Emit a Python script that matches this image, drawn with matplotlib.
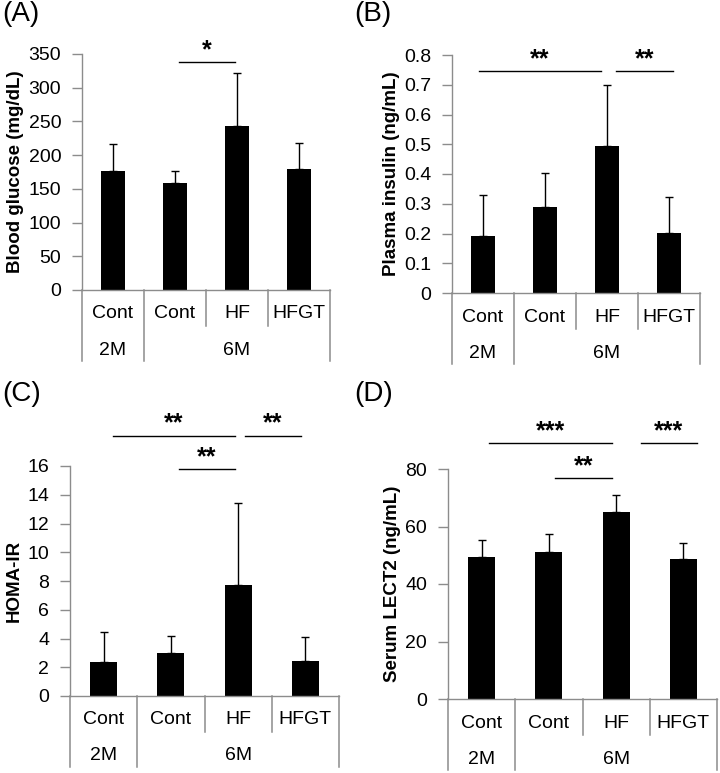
import matplotlib
matplotlib.use("Agg")
import matplotlib.pyplot as plt
import matplotlib.transforms as mtransforms
from matplotlib.lines import Line2D

plt.rcParams['font.family'] = ['Liberation Sans', 'DejaVu Sans']

# ---------------- data ----------------
categories = ["Cont", "Cont", "HF", "HFGT"]
group_labels = ["2M", "6M"]
group_spans = [(0, 0), (1, 3)]

glucose_mean = [177, 159, 243, 179]
glucose_err = [40, 18, 79, 39]

insulin_mean = [0.193, 0.288, 0.493, 0.202]
insulin_err = [0.138, 0.117, 0.207, 0.120]

homa_mean = [2.4, 3.0, 7.7, 2.45]
homa_err = [2.05, 1.2, 5.7, 1.65]

lect2_mean = [49.5, 51.0, 65.0, 48.7]
lect2_err = [5.8, 6.3, 6.0, 5.6]

# significance annotations: (x_start, x_end, y, label)
sig_A = [(1.06, 1.97, 338, "*")]
sig_B = [(-0.06, 1.90, 0.746, "**"), (2.15, 3.06, 0.746, "**")]
sig_C = [(0.14, 1.95, 18.1, "**"), (2.10, 2.93, 18.1, "**"), (1.12, 1.95, 15.8, "**")]
sig_D = [(0.11, 1.94, 89, "***"), (2.37, 3.20, 89, "***"), (1.09, 1.94, 76.9, "**")]

W, H = 720, 773
fig = plt.figure(figsize=(W / 100, H / 100), dpi=100)

GRAY = "#8c8c8c"
FS = 14


def make_panel(rect_px, means, errs, ylim, yticks, ylabel, sigs,
               panel_label, label_xy, tick_fmt):
    l, r, t, b = rect_px
    ax = fig.add_axes([l / W, (H - b) / H, (r - l) / W, (b - t) / H])
    x = list(range(len(means)))
    ax.bar(x, means, width=0.4, color="black", zorder=2)
    ax.errorbar(x, means, yerr=[[0] * len(errs), errs], fmt="none",
                ecolor="black", elinewidth=1.0, capsize=3, capthick=1.0, zorder=3)
    ax.set_xlim(-0.5, len(means) - 0.5)
    ax.set_ylim(*ylim)
    ax.set_yticks(yticks)
    ax.set_yticklabels([tick_fmt(v) for v in yticks], fontsize=FS)
    ax.tick_params(axis="y", direction="out", length=7, width=1, color=GRAY, pad=8)
    ax.set_xticks([])
    for s in ["top", "right"]:
        ax.spines[s].set_visible(False)
    for s in ["left", "bottom"]:
        ax.spines[s].set_color(GRAY)
        ax.spines[s].set_linewidth(1)
    ax.set_ylabel(ylabel, fontsize=13.5, fontweight="bold", labelpad=3)

    n = len(means)
    tr = mtransforms.blended_transform_factory(ax.transData, fig.transFigure)
    y0 = (H - b) / H
    long_seps = [-0.5, n - 0.5] + [g[0] - 0.5 for g in group_spans[1:]]
    for k in range(n + 1):
        sx = k - 0.5
        depth = 71 if sx in long_seps else 36
        fig.add_artist(Line2D([sx, sx], [y0, y0 - depth / H], color=GRAY, lw=1.1,
                              clip_on=False, transform=tr))
    for i, c in enumerate(categories):
        fig.text(i, (H - b - 24) / H, c, transform=tr, ha="center", va="center",
                 fontsize=FS)
    for gl, (g0, g1) in zip(group_labels, group_spans):
        fig.text((g0 + g1) / 2, (H - b - 60) / H, gl, transform=tr, ha="center",
                 va="center", fontsize=FS)

    for (x0, x1, yv, txt) in sigs:
        ax.plot([x0, x1], [yv, yv], color="black", lw=1.0, clip_on=False)
        ax.text((x0 + x1) / 2, yv, txt, ha="center", va="bottom", fontsize=18,
                fontweight="bold", clip_on=False)

    fig.text(label_xy[0] / W, 1 - label_xy[1] / H, panel_label, fontsize=20,
             ha="left", va="top")
    return ax


make_panel((82, 330, 54, 290), glucose_mean, glucose_err, (0, 350),
           list(range(0, 351, 50)), "Blood glucose (mg/dL)", sig_A,
           "(A)", (2, 1), lambda v: f"{v:d}")
make_panel((452, 700, 55, 293), insulin_mean, insulin_err, (0, 0.8),
           [i / 10 for i in range(0, 9)], "Plasma insulin (ng/mL)", sig_B,
           "(B)", (354, 1), lambda v: "0" if v == 0 else f"{v:.1f}")
make_panel((70, 339, 466, 696), homa_mean, homa_err, (0, 16),
           list(range(0, 17, 2)), "HOMA-IR", sig_C,
           "(C)", (2, 381), lambda v: f"{v:d}")
make_panel((448, 717, 469, 699), lect2_mean, lect2_err, (0, 80),
           list(range(0, 81, 20)), "Serum LECT2 (ng/mL)", sig_D,
           "(D)", (354, 381), lambda v: f"{v:d}")

fig.savefig("out.png", dpi=100, facecolor="white")
